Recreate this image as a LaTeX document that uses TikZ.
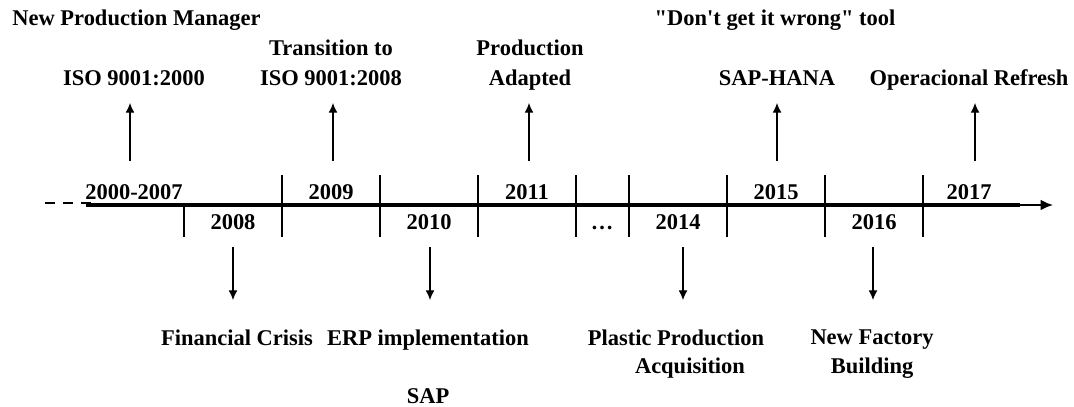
\documentclass[tikz,border=0pt]{standalone}
\usepackage{fontspec}
\setmainfont{Liberation Serif}
\usetikzlibrary{arrows.meta}
\begin{document}
\begin{tikzpicture}[>={Latex[length=5.5pt,width=5pt]},x=0.02cm,y=-0.02cm,
    lbl/.style={font=\bfseries\fontsize{12.8}{17}\selectfont,inner sep=0pt,anchor=base},
    evt/.style={->,line width=0.6pt},
    yeartick/.style={line width=1.3pt}]
\useasboundingbox (0,0) rectangle (1074,406);
% time axis
    \coordinate (d0) at (45,203);
    \coordinate (ax0) at (86,205);
    \coordinate (ax1) at (1020,205);
    \coordinate (axe) at (1053,205);
    \draw[line width=1.3pt,dash pattern=on 5.67pt off 4.5pt] (d0)--(95,203);
    \draw[line width=2pt] (ax0)--(ax1);
    \draw[-{Latex[length=7pt,width=6pt]},line width=1.1pt] (1005,205)--(axe);
    \foreach \x in {282,380,478,576,629,727,825,923}
        \draw[yeartick] (\x,175)--(\x,205);
    \foreach \x in {184,282,380,478,576,629,727,825,923}
        \draw[yeartick] (\x,205)--(\x,237);
% years
    \node[lbl] (y0) at (134,199){2000-2007};
    \node[lbl] (y9) at (331,199){2009};
    \node[lbl] (y11) at (527,199){2011};
    \node[lbl] (y15) at (776,199){2015};
    \node[lbl] (y17) at (969,199){2017};
    \node[lbl] (y8) at (233,229){2008};
    \node[lbl] (y10) at (429,229){2010};
    \node[lbl] (gap) at (602,229){\dots};
    \node[lbl] (y14) at (678,229){2014};
    \node[lbl] (y16) at (874,229){2016};
% events above the axis
    \node[lbl,anchor=base west] (npm) at (12,25){New Production Manager};
    \node[lbl] (iso0) at (134,85){ISO 9001:2000};
    \node[lbl,align=center] (iso8) at (331,85){Transition to\\ISO 9001:2008};
    \node[lbl,align=center] (adapt) at (530,85){Production\\Adapted};
    \node[lbl] (tool) at (775,25){\textquotedbl Don\textquotesingle t get it wrong\textquotedbl\ tool};
    \node[lbl] (hana) at (777,85){SAP-HANA};
    \node[lbl] (refresh) at (969,85){Operacional Refresh};
    \foreach \x/\n in {130/a,333/b,529/c,777/d,975/e}{
        \coordinate (u\n) at (\x,161);
        \coordinate (t\n) at (\x,103);
        \draw[evt] (u\n)--(t\n);
    }
% events below the axis
    \node[lbl] (crisis) at (237,345){Financial Crisis};
    \node[lbl] (erp) at (428,345){ERP implementation};
    \node[lbl] (sap) at (428,403){SAP};
    \node[lbl] (plastic) at (676,345){Plastic Production};
    \node[lbl] (acq) at (690,373){Acquisition};
    \node[lbl,align=center] (factory) at (872,373){New Factory\\[-1pt]Building};
    \foreach \x/\n in {233/f,430/g,683/h,873/i}{
        \coordinate (u\n) at (\x,247);
        \coordinate (t\n) at (\x,300);
        \draw[evt] (u\n)--(t\n);
    }
\end{tikzpicture}
\end{document}
